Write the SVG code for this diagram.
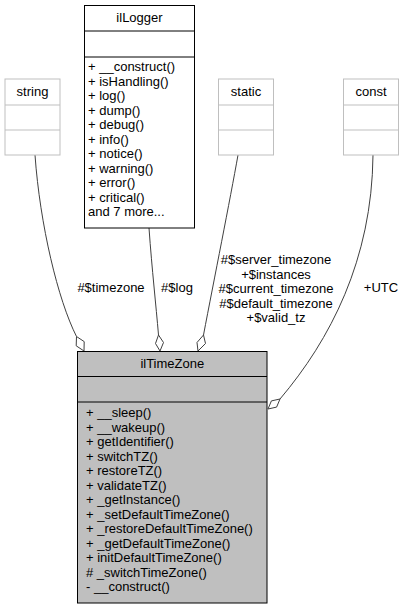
<svg xmlns="http://www.w3.org/2000/svg" width="409" height="609" viewBox="0 0 409 609">
<style>
text{font-family:"Liberation Sans",Arial,sans-serif;font-size:13px;fill:#000}
.c{text-anchor:middle}
.box{fill:#fff;stroke:#000;stroke-width:1}
.gbox{fill:#fff;stroke:#bfbfbf;stroke-width:1}
.main{fill:#bfbfbf;stroke:#000;stroke-width:1}
.sepb{stroke:#000;stroke-width:1}
.sepg{stroke:#bfbfbf;stroke-width:1}
.edge{fill:none;stroke:#404040;stroke-width:1}
.dia{fill:#fff;stroke:#404040;stroke-width:1}
</style>
<rect width="409" height="609" fill="#fff"/>
<g id="edges">
<path class="edge" d="M35,155 C40,225 58,300 76.5,336.5"/>
<polygon class="dia" points="84,351 84.2,341.6 76.5,336.5 76.2,345.8"/>
<path class="edge" d="M149,228 C152,270 156,305 158.5,335"/>
<polygon class="dia" points="160,351 163.5,342.5 158.5,335 155.5,343.5"/>
<path class="edge" d="M238,155 C230,200 214,280 203.5,335"/>
<polygon class="dia" points="198,351 205.5,343.5 203.5,335 197,342.5"/>
<path class="edge" d="M373,155 C372,260 330,340 280,399"/>
<polygon class="dia" points="268,409 276.6,407.1 280,399 271.4,400.9"/>
<text x="111" y="292" class="c">#$timezone</text>
<text x="177" y="292" class="c">#$log</text>
<text x="276" y="264" class="c">#$server_timezone</text>
<text x="276" y="278.5" class="c">+$instances</text>
<text x="276" y="293" class="c">#$current_timezone</text>
<text x="276" y="307.5" class="c">#$default_timezone</text>
<text x="276" y="322" class="c">+$valid_tz</text>
<text x="381" y="292" class="c">+UTC</text>
</g>
<g id="string">
<rect class="gbox" x="5" y="79" width="55" height="76"/>
<line class="sepg" x1="5" y1="105" x2="60" y2="105"/>
<line class="sepg" x1="5" y1="130" x2="60" y2="130"/>
<text x="32.5" y="96" class="c">string</text>
</g>
<g id="static">
<rect class="gbox" x="218.5" y="79" width="55" height="76"/>
<line class="sepg" x1="218.5" y1="105" x2="273.5" y2="105"/>
<line class="sepg" x1="218.5" y1="130" x2="273.5" y2="130"/>
<text x="246" y="96" class="c">static</text>
</g>
<g id="const">
<rect class="gbox" x="343.5" y="79" width="55" height="76"/>
<line class="sepg" x1="343.5" y1="105" x2="398.5" y2="105"/>
<line class="sepg" x1="343.5" y1="130" x2="398.5" y2="130"/>
<text x="371" y="96" class="c">const</text>
</g>
<g id="ilLogger">
<rect class="box" x="84.5" y="5.5" width="110" height="222.5"/>
<line class="sepb" x1="84.5" y1="31" x2="194.5" y2="31"/>
<line class="sepb" x1="84.5" y1="57" x2="194.5" y2="57"/>
<text x="139.5" y="22" class="c">ilLogger</text>
<text x="88" y="71">+ __construct()</text>
<text x="88" y="85.5">+ isHandling()</text>
<text x="88" y="100">+ log()</text>
<text x="88" y="114.5">+ dump()</text>
<text x="88" y="129">+ debug()</text>
<text x="88" y="143.5">+ info()</text>
<text x="88" y="158">+ notice()</text>
<text x="88" y="172.5">+ warning()</text>
<text x="88" y="187">+ error()</text>
<text x="88" y="201.5">+ critical()</text>
<text x="88" y="216">and 7 more...</text>
</g>
<g id="ilTimeZone">
<rect class="main" x="77.5" y="351.5" width="189.5" height="251.5"/>
<line class="sepb" x1="77.5" y1="376.5" x2="267" y2="376.5"/>
<line class="sepb" x1="77.5" y1="402" x2="267" y2="402"/>
<text x="172.3" y="368" class="c">ilTimeZone</text>
<text x="86" y="417">+ __sleep()</text>
<text x="86" y="431.5">+ __wakeup()</text>
<text x="86" y="446">+ getIdentifier()</text>
<text x="86" y="460.5">+ switchTZ()</text>
<text x="86" y="475">+ restoreTZ()</text>
<text x="86" y="489.5">+ validateTZ()</text>
<text x="86" y="504">+ _getInstance()</text>
<text x="86" y="518.5">+ _setDefaultTimeZone()</text>
<text x="86" y="533">+ _restoreDefaultTimeZone()</text>
<text x="86" y="547.5">+ _getDefaultTimeZone()</text>
<text x="86" y="562">+ initDefaultTimeZone()</text>
<text x="86" y="576.5"># _switchTimeZone()</text>
<text x="86" y="591">- __construct()</text>
</g>
</svg>
